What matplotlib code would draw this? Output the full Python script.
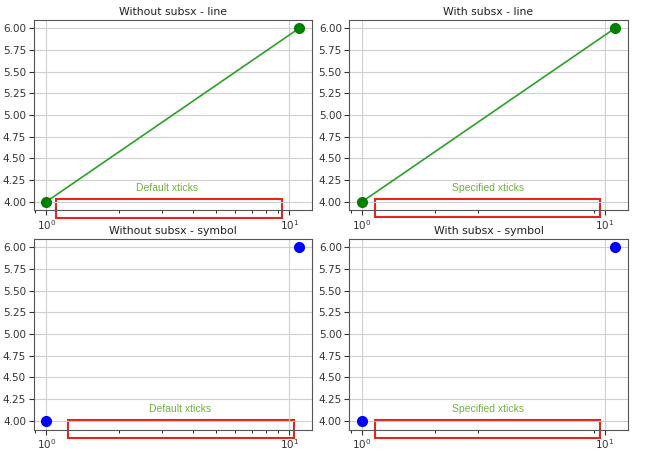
import matplotlib
matplotlib.use('Agg')
from matplotlib import pyplot as plt
from matplotlib.patches import Rectangle

# data
x = [1, 11]
y = [4, 6]
subs_x = [2, 3, 9]

titles = ['Without subsx - line', 'With subsx - line',
          'Without subsx - symbol', 'With subsx - symbol']
notes = ['Default xticks', 'Specified xticks', 'Default xticks', 'Specified xticks']

# red boxes around the minor ticks, axes fraction (x0, y0, w, h)
boxes = [(0.082, -0.04, 0.81, 0.10), (0.093, -0.035, 0.809, 0.093),
         (0.123, -0.043, 0.812, 0.095), (0.093, -0.043, 0.809, 0.095)]
note_pos = [(0.48, 0.116), (0.497, 0.116), (0.525, 0.109), (0.497, 0.109)]

fig, axes = plt.subplots(2, 2, figsize=(6.6, 4.58), dpi=100)
plt.subplots_adjust(left=0.051, right=0.951, top=0.9574, bottom=0.0622,
                    hspace=0.148, wspace=0.135)
axes = axes.ravel()

for i, ax in enumerate(axes):
    if i < 2:
        ax.plot(x, y, color='#2ca02c', lw=1.2)
        ax.plot(x, y, 'o', color='green', ms=7)
    else:
        ax.plot(x, y, 'o', color='blue', ms=7)

    if i % 2 == 0:
        ax.set_xscale('log')
    else:
        ax.set_xscale('log', subs=subs_x)

    ax.grid(True, color='#cfcfcf', lw=0.8)
    ax.set_title(titles[i], fontsize=7.8, pad=3, color='#222222')
    ax.tick_params(labelsize=7.5, colors='#333333', pad=2)
    for s in ax.spines.values():
        s.set_edgecolor('#555555')

    bx, by, bw, bh = boxes[i]
    ax.add_patch(Rectangle((bx, by), bw, bh, transform=ax.transAxes,
                           fill=False, edgecolor='#e8231a', lw=1.5, clip_on=False))
    tx, ty = note_pos[i]
    ax.text(tx, ty, notes[i], transform=ax.transAxes, ha='center', va='center',
            color='#6db33f', fontsize=7.5, family='Liberation Sans')

plt.savefig('out.png')
